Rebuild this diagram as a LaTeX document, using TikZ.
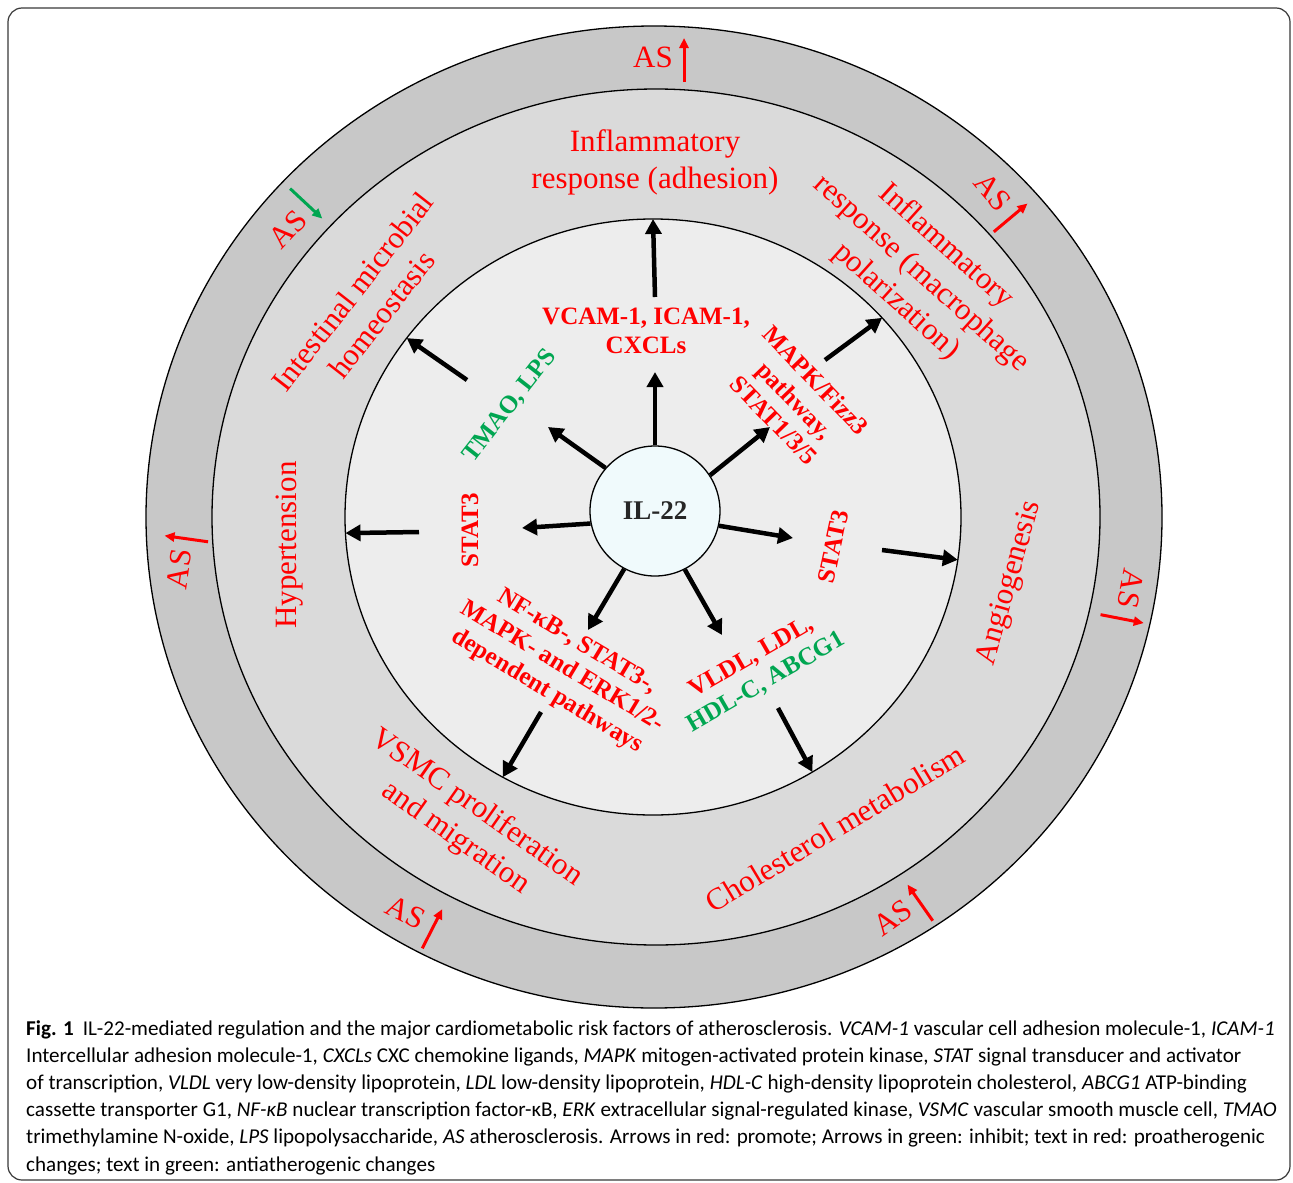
\documentclass[tikz,border=0pt]{standalone}
\usepackage{fontspec}
\setmainfont{Liberation Serif}
\newfontfamily\capfont{Carlito}
\usetikzlibrary{arrows.meta,shapes.geometric}
\definecolor{ringout}{HTML}{C8C8C8}
\definecolor{ringmid}{HTML}{DADADA}
\definecolor{ringin}{HTML}{EDEDED}
\definecolor{ilfill}{HTML}{F0FAFC}
\definecolor{txtred}{HTML}{FF0000}
\definecolor{txtgreen}{HTML}{00A651}
\definecolor{framegray}{HTML}{3A3A3A}
\begin{document}
\begin{tikzpicture}[x=1pt,y=-1pt,
  ring/.style={ellipse,draw=black,line width=1.3pt,inner sep=0pt,outer sep=0pt},
  midlab/.style={text=txtred,align=center,font=\fontsize{31}{37}\selectfont,inner sep=0pt},
  inlab/.style={align=center,font=\fontsize{25}{29}\selectfont\bfseries,inner sep=0pt},
  astext/.style={text=txtred,font=\fontsize{31}{37}\selectfont,inner sep=0pt},
  asarrow/.style={line width=3pt,-{Triangle[length=10pt,width=9pt]}},
  bigarrow/.style={line width=4.5pt,-{Triangle[length=15pt,width=16pt]}},
  capline/.style={anchor=base west,inner sep=0pt,font=\capfont\fontsize{21.1}{27}\selectfont},
  asup/.pic={\node[astext,transform shape] (-t) at (0,0) {AS};
             \draw[asarrow,txtred] (31,25) -- (31,-19);},
  asdown/.pic={\node[astext,transform shape] (-t) at (0,0) {AS};
             \draw[asarrow,txtgreen] (31,-26) -- (31,18);}
]
\useasboundingbox (0,0) rectangle (1293,1183);
\fill[white] (0,0) rectangle (1293,1183);
\draw[framegray,line width=1.2pt,rounded corners=14pt] (8,8) rectangle (1290,1180);

% rings
\node[ring,fill=ringout,minimum width=1016pt,minimum height=982pt] (outer) at (654,517) {};
\node[ring,fill=ringmid,minimum width=888pt,minimum height=856pt] (middle) at (656,517) {};
\node[ring,fill=ringin,minimum width=616pt,minimum height=596pt] (inner) at (653,517) {};

% centre
\node[circle,draw=black,line width=1.3pt,fill=ilfill,minimum size=130pt,inner sep=0pt,
      font=\fontsize{27}{30}\selectfont\bfseries,text=black!85] (il) at (655,511) {IL-22};

% middle ring labels
\node[midlab] (inflA) at (655,162) {Inflammatory\\response (adhesion)};
\node[midlab,rotate=-42] (inflM) at (921,274) {Inflammatory\\response (macrophage\\polarization)};
\node[midlab,rotate=52] (intest) at (367,303) {Intestinal microbial\\homeostasis};
\node[midlab,rotate=90] (hyper) at (290,545) {Hypertension};
\node[midlab,rotate=74] (angio) at (1010,583) {Angiogenesis};
\node[midlab,rotate=-35] (vsmc) at (466,823) {VSMC proliferation\\and migration};
\node[midlab,rotate=31] (chol) at (835,828) {Cholesterol metabolism};

% inner labels
\node[inlab,text=txtred] (vcam) at (646,331) {VCAM-1, ICAM-1,\\CXCLs};
\node[inlab,text=txtgreen,rotate=52] (tmao) at (510,406) {TMAO, LPS};
\node[inlab,text=txtred,rotate=-46] (mapk) at (795,400) {MAPK/Fizz3\\pathway,\\STAT1/3/5};
\node[inlab,text=txtred,rotate=90] (stl) at (470,530) {STAT3};
\node[inlab,text=txtred,rotate=78] (str) at (833,547) {STAT3};
\node[inlab,text=txtred,rotate=-31] (nfkb) at (562,667) {NF-κB-, STAT3-,\\MAPK- and ERK1/2-\\dependent pathways};
\node[inlab,rotate=30] (vldl) at (759,670) {\textcolor{txtred}{VLDL, LDL,}\\\textcolor{txtgreen}{HDL-C, ABCG1}};

% outer ring AS marks
\pic (asa) at (653,57) {asup};
\pic[rotate=-50] (asb) at (993,192) {asup};
\pic[rotate=82] (asc) at (179,569) {asup};
\pic[rotate=-101] (asd) at (1131,589) {asup};
\pic[rotate=-27] (ase) at (406,912) {asup};
\pic[rotate=35] (asf) at (893,918) {asup};
\pic[rotate=47] (asg) at (288,229) {asdown};

% arrows from IL-22
\coordinate (q1) at (655,372);
\coordinate (q2) at (548,427);
\coordinate (q3) at (770,427);
\coordinate (q4) at (522,528);
\coordinate (q5) at (793,538);
\coordinate (q6) at (588,630);
\coordinate (q7) at (722,635);
\draw[bigarrow] (il.90) -- (q1);
\draw[bigarrow] (il.139) -- (q2);
\draw[bigarrow] (il.33.5) -- (q3);
\draw[bigarrow] (il.191) -- (q4);
\draw[bigarrow] (il.-13.8) -- (q5);
\draw[bigarrow] (il.-118.5) -- (q6);
\draw[bigarrow] (il.-63.4) -- (q7);

% arrows to the middle ring
\coordinate (p1) at (655,297);
\coordinate (p2) at (467,380);
\coordinate (p3) at (825,360);
\coordinate (p4) at (419,532);
\coordinate (p5) at (882,550);
\coordinate (p6) at (541,712);
\coordinate (p7) at (778,708);
\draw[bigarrow] (p1) -- (inner.90);
\draw[bigarrow] (p2) -- (inner.144.2);
\draw[bigarrow] (p3) -- (inner.41.6);
\draw[bigarrow] (p4) -- (inner.183.9);
\draw[bigarrow] (p5) -- (inner.-8.7);
\draw[bigarrow] (p6) -- (inner.-120);
\draw[bigarrow] (p7) -- (inner.-58);

% caption
\node[capline] (cap1) at (26,1035) {\textbf{Fig. 1}\hspace{9pt}IL-22-mediated regulation and the major cardiometabolic risk factors of atherosclerosis. \textit{VCAM-1} vascular cell adhesion molecule-1, \textit{ICAM-1}};
\node[capline] (cap2) at (26,1062.2) {Intercellular adhesion molecule-1, \textit{CXCLs} CXC chemokine ligands, \textit{MAPK} mitogen-activated protein kinase, \textit{STAT} signal transducer and activator};
\node[capline] (cap3) at (26,1089.4) {of transcription, \textit{VLDL} very low-density lipoprotein, \textit{LDL} low-density lipoprotein, \textit{HDL-C} high-density lipoprotein cholesterol, \textit{ABCG1} ATP-binding};
\node[capline] (cap4) at (26,1116.6) {cassette transporter G1, \textit{NF-κB} nuclear transcription factor-κB, \textit{ERK} extracellular signal-regulated kinase, \textit{VSMC} vascular smooth muscle cell, \textit{TMAO}};
\node[capline] (cap5) at (26,1143.8) {trimethylamine N-oxide, \textit{LPS} lipopolysaccharide, \textit{AS} atherosclerosis. Arrows in red: promote; Arrows in green: inhibit; text in red: proatherogenic};
\node[capline] (cap6) at (26,1171) {changes; text in green: antiatherogenic changes};
\end{tikzpicture}
\end{document}
